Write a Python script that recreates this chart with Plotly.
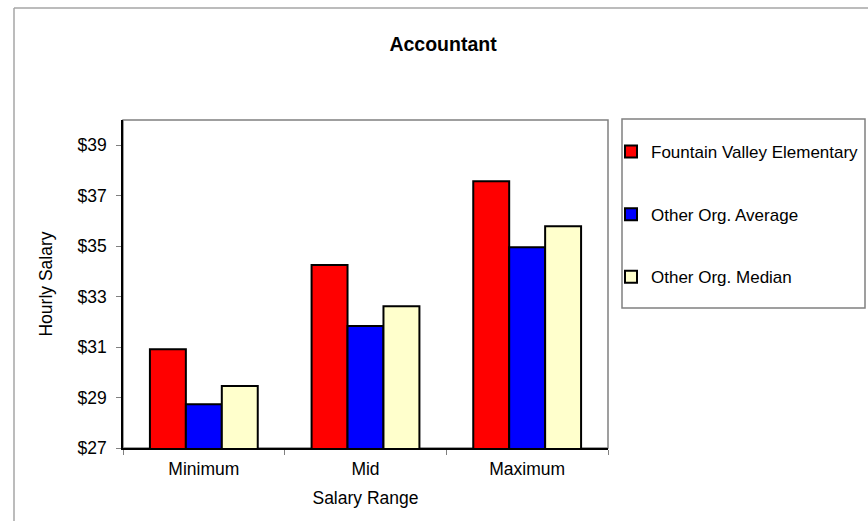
import plotly.graph_objects as go

# Salary survey: hourly rates for the Accountant position
categories = ["Minimum", "Mid", "Maximum"]
series_names = ["Fountain Valley Elementary", "Other Org. Average", "Other Org. Median"]
fountain_valley = [30.91, 34.25, 37.57]
other_average = [28.73, 31.84, 34.96]
other_median = [29.46, 32.62, 35.79]
series_values = [fountain_valley, other_average, other_median]
series_colors = ["#FF0000", "#0000FF", "#FFFFCC"]

y_ticks = [27, 29, 31, 33, 35, 37, 39]

FONT = "Arial, Liberation Sans, sans-serif"
FS = 17.5
W, H = 868, 521
L, R, T, B = 123, 260, 120, 73

fig = go.Figure()
for i, (name, vals, col) in enumerate(zip(series_names, series_values, series_colors)):
    fig.add_trace(go.Bar(
        x=categories, y=vals, name=name, legendgroup=f"g{i}",
        marker=dict(color=col, line=dict(color="#000000", width=2)),
        hovertemplate="%{x}: $%{y:.2f}<extra>" + name + "</extra>",
    ))

plot_w = W - L - R
plot_h = H - T - B

def px_x(x):
    return (x - L) / plot_w

def px_y(y):
    return 1 - (y - T) / plot_h

shapes = [
    # outer chart frame (top and left edges)
    dict(type="line", xref="paper", yref="paper",
         x0=px_x(14), x1=px_x(870), y0=px_y(8), y1=px_y(8),
         line=dict(color="#a6a6a6", width=1.5)),
    dict(type="line", xref="paper", yref="paper",
         x0=px_x(14), x1=px_x(14), y0=px_y(8), y1=px_y(523),
         line=dict(color="#a6a6a6", width=1.5)),
    # plot area frame
    dict(type="rect", xref="paper", yref="paper", x0=0, x1=1, y0=0, y1=1,
         line=dict(color="#808080", width=1.5), layer="below"),
    # legend frame
    dict(type="rect", xref="paper", yref="paper",
         x0=px_x(622), x1=px_x(865), y0=px_y(308), y1=px_y(119),
         line=dict(color="#808080", width=1.5)),
]

fig.update_layout(
    width=W, height=H,
    margin=dict(l=L, r=R, t=T, b=B, pad=0, autoexpand=False),
    paper_bgcolor="white", plot_bgcolor="white",
    font=dict(family=FONT, size=FS, color="#000000"),
    title=dict(text="<b>Accountant</b>", x=443 / W, xanchor="center",
               y=1 - 44 / H, yanchor="middle", yref="container",
               font=dict(family=FONT, size=19.5, color="#000000")),
    barmode="group", bargap=0.333, bargroupgap=0,
    showlegend=True,
    legend=dict(x=px_x(611), xanchor="left", y=px_y(134), yanchor="top",
                bgcolor="rgba(0,0,0,0)", borderwidth=0,
                traceorder="grouped", tracegroupgap=37.5,
                font=dict(family=FONT, size=17, color="#000000")),
    shapes=shapes,
)

fig.update_xaxes(
    type="category", showgrid=False, zeroline=False,
    showline=True, linecolor="#000000", linewidth=1.5,
    ticks="outside", tickson="boundaries", ticklen=5, tickcolor="#808080",
    ticklabelstandoff=4,
    tickfont=dict(family=FONT, size=FS, color="#000000"),
    title=dict(text="Salary Range", standoff=14,
               font=dict(family=FONT, size=FS, color="#000000")),
)
fig.update_yaxes(
    range=[27, 40], tickvals=y_ticks, ticktext=[f"${v}" for v in y_ticks],
    showgrid=False, zeroline=False,
    showline=True, linecolor="#000000", linewidth=1.5,
    ticks="outside", ticklen=5, tickcolor="#808080", ticklabelstandoff=6,
    tickfont=dict(family=FONT, size=FS, color="#000000"),
    title=dict(text="Hourly Salary", standoff=20,
               font=dict(family=FONT, size=FS, color="#000000")),
)

fig.write_html("out.html")
